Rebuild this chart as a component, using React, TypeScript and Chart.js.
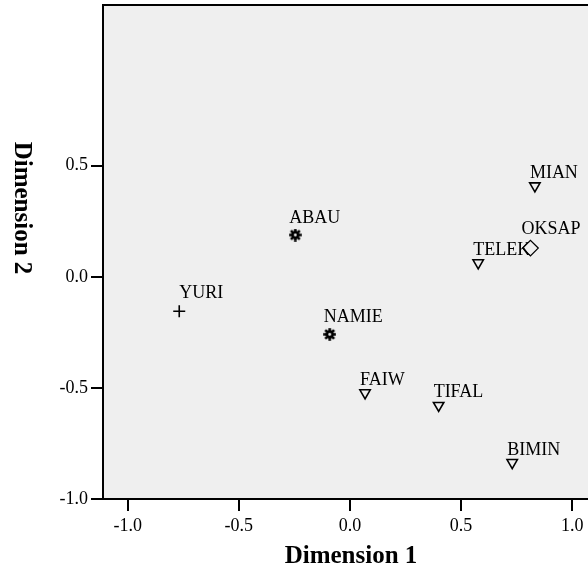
import { useEffect, useRef } from 'react';
import { Chart, registerables } from 'chart.js';

Chart.register(...registerables);

// ---- data ----
const names = ['YURI', 'ABAU', 'NAMIE', 'MIAN', 'OKSAP', 'TELEK', 'FAIW', 'TIFAL', 'BIMIN'];
const dim1 = [-0.768, -0.246, -0.091, 0.832, 0.812, 0.577, 0.068, 0.399, 0.73];
const dim2 = [-0.155, 0.188, -0.259, 0.409, 0.129, 0.063, -0.522, -0.579, -0.836];
const groups = ['cross', 'star', 'star', 'triangle', 'diamond', 'triangle', 'triangle', 'triangle', 'triangle'];
const xTicks = [-1.0, -0.5, 0.0, 0.5, 1.0];
const yTicks = [-1.0, -0.5, 0.0, 0.5];
const xTitle = 'Dimension 1';
const yTitle = 'Dimension 2';

const SERIF = '"Liberation Serif", "Times New Roman", serif';

function makeGear(): HTMLCanvasElement {
  const c = document.createElement('canvas');
  c.width = 13;
  c.height = 13;
  const g = c.getContext('2d')!;
  const cx = 6.5;
  const cy = 6.5;
  g.fillStyle = '#000';
  g.beginPath();
  g.arc(cx, cy, 4.2, 0, Math.PI * 2);
  g.fill();
  for (let k = 0; k < 8; k++) {
    g.save();
    g.translate(cx, cy);
    g.rotate((k * Math.PI) / 4);
    g.fillRect(-1.3, -6.3, 2.6, 3);
    g.restore();
  }
  g.fillStyle = '#efefef';
  g.beginPath();
  g.arc(cx, cy, 1.4, 0, Math.PI * 2);
  g.fill();
  return c;
}

export default function App() {
  const ref = useRef<HTMLCanvasElement>(null);

  useEffect(() => {
    document.body.style.margin = '0';
    const canvas = ref.current!;
    const gear = makeGear();

    const markerStyles: Record<string, any> = {
      cross: { pointStyle: 'cross', radius: 6, rotation: 0, borderWidth: 1.6, dx: 0, dy: -13 },
      star: { pointStyle: gear, radius: 6, rotation: 0, borderWidth: 1, dx: -6, dy: -12 },
      triangle: { pointStyle: 'triangle', radius: 6, rotation: 180, borderWidth: 1.6, dx: -5, dy: -8 },
      diamond: { pointStyle: 'rectRot', radius: 7.8, rotation: 0, borderWidth: 1.3, dx: -9, dy: -14 },
    };

    const groupOrder = ['cross', 'star', 'triangle', 'diamond'];
    const datasets = groupOrder.map((gname) => {
      const st = markerStyles[gname];
      const pts: any[] = [];
      names.forEach((n, i) => {
        if (groups[i] === gname) pts.push({ x: dim1[i], y: dim2[i], label: n });
      });
      return {
        label: gname,
        data: pts,
        pointStyle: st.pointStyle,
        pointRadius: st.radius,
        pointRotation: st.rotation,
        borderWidth: st.borderWidth,
        borderColor: '#000',
        backgroundColor: 'rgba(0,0,0,0)',
        showLine: false,
      };
    });

    const bgPlugin = {
      id: 'bg',
      beforeDraw(chart: any) {
        const { ctx, chartArea: a } = chart;
        ctx.save();
        ctx.fillStyle = '#efefef';
        ctx.fillRect(a.left, a.top, a.right - a.left, a.bottom - a.top);
        ctx.restore();
      },
      afterDatasetsDraw(chart: any) {
        const { ctx, chartArea: a } = chart;
        const xs = chart.scales.x;
        const ys = chart.scales.y;
        ctx.save();
        // top border
        ctx.strokeStyle = '#000';
        ctx.lineWidth = 2;
        ctx.beginPath();
        ctx.moveTo(a.left - 1, a.top);
        ctx.lineTo(a.right, a.top);
        ctx.stroke();
        // point labels
        ctx.fillStyle = '#000';
        ctx.font = `18px ${SERIF}`;
        ctx.textAlign = 'left';
        ctx.textBaseline = 'alphabetic';
        names.forEach((n, i) => {
          const st = markerStyles[groups[i]];
          const px = xs.getPixelForValue(dim1[i]);
          const py = ys.getPixelForValue(dim2[i]);
          ctx.fillText(n, px + st.dx, py + st.dy);
        });
        // axis titles
        ctx.font = `bold 25px ${SERIF}`;
        ctx.textAlign = 'center';
        ctx.fillText(xTitle, 351, 563);
        ctx.save();
        ctx.translate(15, 208);
        ctx.rotate(Math.PI / 2);
        ctx.textAlign = 'center';
        ctx.fillText(yTitle, 0, 0);
        ctx.restore();
        ctx.restore();
      },
    };

    const gridOpts = {
      drawOnChartArea: false,
      drawTicks: true,
      tickLength: 12,
      color: '#000',
      lineWidth: 2,
    };

    const chart = new Chart(canvas, {
      type: 'scatter',
      data: { datasets },
      plugins: [bgPlugin],
      options: {
        animation: false,
        responsive: false,
        maintainAspectRatio: false,
        devicePixelRatio: 1,
        layout: { autoPadding: false, padding: { top: 5, left: 0, right: 0, bottom: 0 } },
        plugins: { legend: { display: false }, tooltip: { enabled: false } },
        scales: {
          x: {
            type: 'linear',
            min: -1.111,
            max: 1.071,
            afterBuildTicks: (axis: any) => {
              axis.ticks = xTicks.map((v) => ({ value: v }));
            },
            afterFit: (s: any) => {
              s.height = 72;
              s.paddingLeft = 0;
              s.paddingRight = 0;
            },
            grid: gridOpts,
            border: { display: true, color: '#000', width: 2 },
            ticks: {
              color: '#000',
              font: { family: SERIF, size: 18 },
              padding: 4,
              maxRotation: 0,
              autoSkip: false,
              callback: (v: any) => Number(v).toFixed(1),
            },
          },
          y: {
            type: 'linear',
            min: -1.0,
            max: 1.223,
            afterBuildTicks: (axis: any) => {
              axis.ticks = yTicks.map((v) => ({ value: v }));
            },
            afterFit: (s: any) => {
              s.width = 103;
              s.paddingTop = 0;
              s.paddingBottom = 0;
            },
            grid: gridOpts,
            border: { display: true, color: '#000', width: 2 },
            ticks: {
              color: '#000',
              font: { family: SERIF, size: 18 },
              padding: 3,
              autoSkip: false,
              callback: (v: any) => Number(v).toFixed(1),
            },
          },
        },
      } as any,
    });

    return () => chart.destroy();
  }, []);

  return (
    <canvas
      ref={ref}
      width={588}
      height={571}
      style={{ display: 'block', width: '588px', height: '571px' }}
    />
  );
}
